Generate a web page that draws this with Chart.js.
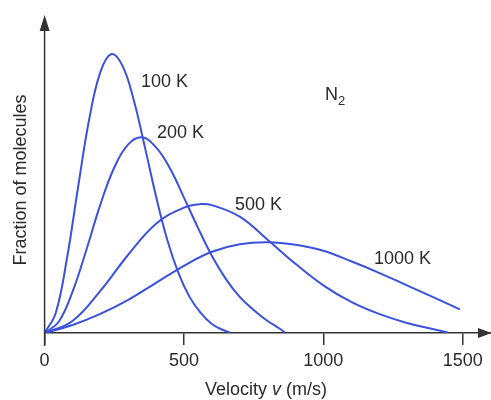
<!DOCTYPE html>
<html>
<head>
<meta charset="utf-8">
<script src="https://cdn.jsdelivr.net/npm/chart.js@4"></script>
<style>
  body { margin: 0; background: #fff; }
  #wrap { width: 491px; height: 400px; }
</style>
</head>
<body>
<div id="wrap"><canvas id="mb-chart" width="491" height="400"></canvas></div>
<script>
// speeds (m/s) and relative fraction
const vel100 = [0, 40, 80, 120, 160, 200, 240, 280, 320, 360, 400, 440, 480, 520, 560, 600, 640, 665];
const frac100 = [0, 20, 74, 145, 213, 260, 278, 266, 232, 185, 136, 93, 60, 36, 20, 9, 3, 0.5];

const vel200 = [0, 50, 100, 150, 200, 250, 300, 350, 400, 450, 500, 550, 600, 650, 700, 750, 800, 840, 862];
const frac200 = [0, 11, 41, 83, 128, 165, 188, 195, 185, 164, 135, 105, 77, 54, 36, 23, 12, 5, 0.5];

const vel500 = [0, 100, 200, 300, 400, 500, 560, 600, 700, 800, 900, 1000, 1100, 1200, 1300, 1400, 1447];
const frac500 = [0, 12, 42, 78, 109, 125, 128.5, 127.5, 116, 93, 69, 47.5, 31, 19, 10, 3.5, 0.5];

const vel1000 = [0, 100, 200, 300, 400, 500, 600, 700, 800, 900, 1000, 1100, 1200, 1300, 1400, 1490];
const frac1000 = [0, 8, 19, 33, 50, 67, 81, 88.5, 90.5, 88, 82, 71.5, 60, 47.5, 35, 23.5];

const tempLabels = ['100 K', '200 K', '500 K', '1000 K'];
const xTicks = [0, 500, 1000, 1500];

const curveColor = 'rgb(58, 82, 222)';
const axisColor = '#333';
const textColor = '#2a2a2a';
const fontFamily = "'Liberation Sans', Arial, sans-serif";

function pts(xs, ys) {
    return xs.map((v, i) => ({x: v, y: ys[i]}));
}

const series = [
    pts(vel100, frac100),
    pts(vel200, frac200),
    pts(vel500, frac500),
    pts(vel1000, frac1000)
];

// where the curve labels sit (pixels)
const labelSpots = [[141, 82], [157, 133], [235, 205], [374, 259]];

const decor = {
    id: 'decor',
    afterDraw(chart) {
        const ctx = chart.ctx;
        const x = chart.scales.x, y = chart.scales.y;
        const x0 = x.getPixelForValue(0);
        const y0 = y.getPixelForValue(0);
        ctx.save();
        ctx.strokeStyle = axisColor;
        ctx.fillStyle = axisColor;
        ctx.lineWidth = 1.5;

        // vertical axis with arrow
        ctx.beginPath();
        ctx.moveTo(x0, y0 + 13);
        ctx.lineTo(x0, 28);
        ctx.stroke();
        ctx.beginPath();
        ctx.moveTo(x0, 15);
        ctx.lineTo(x0 - 5, 31);
        ctx.lineTo(x0 + 5, 31);
        ctx.closePath();
        ctx.fill();

        // arrow at the end of the horizontal axis
        ctx.beginPath();
        ctx.moveTo(492, y0);
        ctx.lineTo(478, y0 - 5);
        ctx.lineTo(478, y0 + 5);
        ctx.closePath();
        ctx.fill();

        // curve labels
        ctx.fillStyle = textColor;
        ctx.textBaseline = 'middle';
        ctx.textAlign = 'left';
        ctx.font = '18px ' + fontFamily;
        tempLabels.forEach((t, i) => ctx.fillText(t, labelSpots[i][0], labelSpots[i][1]));

        // N2
        ctx.fillText('N', 325, 95);
        const nw = ctx.measureText('N').width;
        ctx.font = '13px ' + fontFamily;
        ctx.fillText('2', 325 + nw, 101);

        // x title with italic v
        const parts = [['Velocity ', ''], ['v', 'italic '], [' (m/s)', '']];
        let total = 0;
        parts.forEach(p => {
            ctx.font = p[1] + '18px ' + fontFamily;
            total += ctx.measureText(p[0]).width;
        });
        let cx = 266 - total / 2;
        parts.forEach(p => {
            ctx.font = p[1] + '18px ' + fontFamily;
            ctx.fillText(p[0], cx, 390);
            cx += ctx.measureText(p[0]).width;
        });
        ctx.restore();
    }
};

new Chart(
    document.getElementById('mb-chart'),
    {
        type: 'line',
        data: {
            datasets: series.map((d, i) => ({
                label: tempLabels[i],
                data: d,
                borderColor: curveColor,
                borderWidth: 2,
                pointRadius: 0,
                fill: false,
                tension: 0.4
            }))
        },
        options: {
            responsive: false,
            animation: false,
            devicePixelRatio: 1,
            layout: {padding: {top: 27, right: 0, bottom: 23.4, left: 0}},
            plugins: {
                legend: {display: false},
                tooltip: {enabled: false}
            },
            scales: {
                x: {
                    type: 'linear',
                    min: 0,
                    max: 1601.6,
                    afterBuildTicks: scale => {
                        scale.ticks = xTicks.map(v => ({value: v}));
                    },
                    ticks: {
                        autoSkip: false,
                        maxRotation: 0,
                        padding: 5,
                        color: textColor,
                        font: {family: fontFamily, size: 18},
                        callback: v => String(v)
                    },
                    grid: {
                        drawOnChartArea: false,
                        drawTicks: true,
                        tickLength: 12,
                        color: axisColor,
                        lineWidth: 1.5
                    },
                    border: {display: true, color: axisColor, width: 1.5}
                },
                y: {
                    min: 0,
                    max: 305,
                    ticks: {display: false},
                    grid: {display: false, drawTicks: false},
                    border: {display: false},
                    title: {
                        display: true,
                        text: 'Fraction of molecules',
                        color: textColor,
                        font: {family: fontFamily, size: 18},
                        padding: {top: 10, bottom: 13}
                    }
                }
            }
        },
        plugins: [decor]
    }
);
</script>
</body>
</html>
